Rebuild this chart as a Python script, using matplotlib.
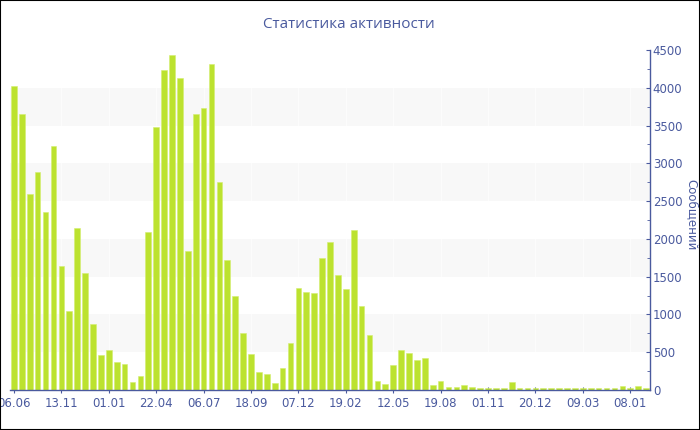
import matplotlib
matplotlib.use("Agg")
import matplotlib.pyplot as plt
from matplotlib.patches import Rectangle

values = [4023, 3653, 2590, 2881, 2360, 3229, 1641, 1050, 2148, 1553,
          873, 463, 534, 371, 348, 101, 181, 2091, 3481, 4231,
          4438, 4125, 1840, 3653, 3728, 4319, 2748, 1720, 1244, 750,
          481, 238, 216, 88, 296, 622, 1350, 1301, 1284, 1743,
          1963, 1522, 1332, 2118, 1108, 724, 119, 75, 331, 529,
          485, 397, 428, 66, 123, 35, 40, 62, 35, 30,
          24, 24, 20, 101, 24, 28, 20, 20, 20, 20,
          28, 32, 20, 20, 20, 24, 20, 57, 28, 57, 24]
tick_labels = ["06.06", "13.11", "01.01", "22.04", "06.07", "18.09", "07.12",
               "19.02", "12.05", "19.08", "01.11", "20.12", "09.03", "08.01"]
tick_step = 6
title = "Статистика активности"
ylabel = "Сообщений"

blue = "#4a5a9e"
bar_color = "#bce22f"

fig = plt.figure(figsize=(7.0, 4.3), dpi=100)
ax = fig.add_axes([10/700, 40/430, 640/700, 340/430])

x = list(range(len(values)))
ax.set_xlim(-0.5, len(values) - 0.5)
ax.set_ylim(0, 4500)

# alternating bands
for lo in range(500, 4500, 1000):
    ax.axhspan(lo, lo + 500, color="#f8f8f8", zorder=0, lw=0)

ticks = list(range(0, len(values), tick_step))[:len(tick_labels)]
for t in ticks:
    ax.axvline(t, color="white", lw=0.8, alpha=0.7, zorder=0.5)

ax.bar(x, values, width=0.72, color=bar_color, zorder=2, edgecolor="#d4ee70", linewidth=0.4)

for s in ["left", "top"]:
    ax.spines[s].set_visible(False)
for s in ["bottom", "right"]:
    ax.spines[s].set_color(blue)
    ax.spines[s].set_linewidth(1.0)
    ax.spines[s].set_zorder(3)

ax.yaxis.tick_right()
ax.set_yticks(range(0, 4501, 500))
ax.set_yticks(range(250, 4500, 500), minor=True)
ax.tick_params(axis="y", which="major", direction="in", length=3, color=blue,
               labelcolor=blue, labelsize=8.5, pad=2)
ax.tick_params(axis="y", which="minor", direction="in", length=2, color=blue)

ax.set_xticks(ticks)
ax.set_xticklabels(tick_labels)
ax.tick_params(axis="x", direction="inout", length=4, color=blue,
               labelcolor=blue, labelsize=8.5, pad=3)

fig.text(692/700, 1 - 215/430, ylabel, rotation=-90, color=blue, fontsize=8.5,
         ha="center", va="center")

fig.text(349/700, 1 - 25/430, title, ha="center", va="center", color=blue,
         fontsize=11, family=["Open Sans", "DejaVu Sans"])

fig.patches.append(Rectangle((0, 0), 1, 1, transform=fig.transFigure,
                             fill=False, edgecolor="black", lw=1.5))

fig.savefig("out.png", dpi=100)
